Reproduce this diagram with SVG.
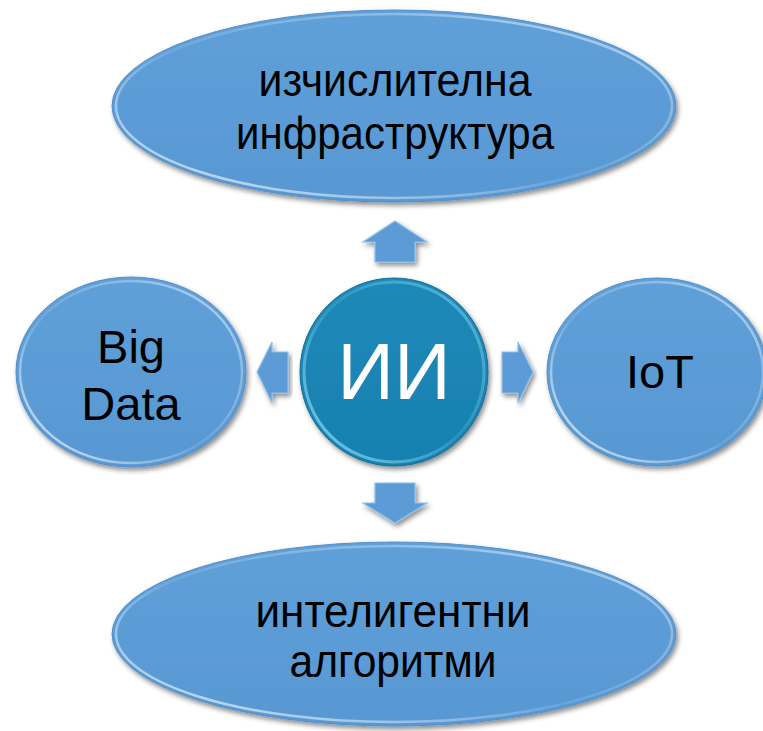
<svg xmlns="http://www.w3.org/2000/svg" width="763" height="731" viewBox="0 0 763 731">
  <defs>
    <filter id="shadow" x="-10%" y="-10%" width="125%" height="130%">
      <feDropShadow dx="2" dy="3" stdDeviation="2.5" flood-color="#000" flood-opacity="0.45"/>
    </filter>
    <linearGradient id="bluefill" x1="0" y1="0" x2="0" y2="1">
      <stop offset="0" stop-color="#5FA0D9"/>
      <stop offset="1" stop-color="#5898D3"/>
    </linearGradient>
    <linearGradient id="tealfill" x1="0" y1="0" x2="0" y2="1">
      <stop offset="0" stop-color="#1C89B9"/>
      <stop offset="1" stop-color="#1881B0"/>
    </linearGradient>
    <linearGradient id="hl" x1="0" y1="1" x2="1" y2="0">
      <stop offset="0" stop-color="#fff" stop-opacity="0.8"/>
      <stop offset="0.45" stop-color="#fff" stop-opacity="0.1"/>
      <stop offset="0.75" stop-color="#fff" stop-opacity="0.3"/>
      <stop offset="1" stop-color="#fff" stop-opacity="0.65"/>
    </linearGradient>
    <linearGradient id="hlc" x1="0" y1="1" x2="1" y2="0">
      <stop offset="0" stop-color="#8FE0F5" stop-opacity="0.85"/>
      <stop offset="0.5" stop-color="#8FE0F5" stop-opacity="0.15"/>
      <stop offset="1" stop-color="#8FE0F5" stop-opacity="0.55"/>
    </linearGradient>
  </defs>
  <style>
    .shape { fill: url(#bluefill); stroke: #5290CB; stroke-width: 1; }
    .rim { fill: none; stroke: url(#hl); stroke-width: 2.5; }
    .core { fill: url(#tealfill); stroke: #136C93; stroke-width: 1; }
    .rimc { fill: none; stroke: url(#hlc); stroke-width: 3; }
    .arrow { fill: #5B9BD5; stroke: #8EC0EA; stroke-width: 1.2; stroke-linejoin: miter; }
    .lbl { font-family: "Liberation Sans", Arial, sans-serif; font-size: 47px; fill: #000; text-anchor: middle; }
    .cyr { font-family: "Liberation Sans", Arial, sans-serif; font-size: 46px; fill: #000; text-anchor: middle; }
    .main { font-family: "Liberation Sans", Arial, sans-serif; font-size: 79px; fill: #fff; text-anchor: middle; }
  </style>
  <rect width="763" height="731" fill="#fff"/>

  <g id="connectors">
    <polygon class="arrow" filter="url(#shadow)" points="395,221 427,242 415,242 415,262 375,262 375,242 363,242"/>
    <polygon class="arrow" filter="url(#shadow)" points="395,523 427,503 415,503 415,483 375,483 375,503 363,503"/>
    <polygon class="arrow" filter="url(#shadow)" points="257,372 272,342 272,352 288,352 288,393 272,393 272,403"/>
    <polygon class="arrow" filter="url(#shadow)" points="533,372 518,342 518,352 502,352 502,393 518,393 518,403"/>
  </g>

  <g id="node-infra">
    <ellipse class="shape" filter="url(#shadow)" cx="394" cy="106" rx="282" ry="96"/>
    <ellipse class="rim" cx="394" cy="106" rx="278" ry="92"/>
    <text class="cyr" x="395" y="96" textLength="273" lengthAdjust="spacingAndGlyphs">изчислителна</text>
    <text class="cyr" x="395" y="149" textLength="318" lengthAdjust="spacingAndGlyphs">инфраструктура</text>
  </g>

  <g id="node-algo">
    <ellipse class="shape" filter="url(#shadow)" cx="394" cy="634" rx="282" ry="92"/>
    <ellipse class="rim" cx="394" cy="634" rx="278" ry="88"/>
    <text class="cyr" x="393" y="627" textLength="275" lengthAdjust="spacingAndGlyphs">интелигентни</text>
    <text class="cyr" x="393" y="677" textLength="207" lengthAdjust="spacingAndGlyphs">алгоритми</text>
  </g>

  <g id="node-bigdata">
    <ellipse class="shape" filter="url(#shadow)" cx="131" cy="372" rx="115" ry="95"/>
    <ellipse class="rim" cx="131" cy="372" rx="111" ry="91"/>
    <text class="lbl" x="131" y="363">Big</text>
    <text class="lbl" x="131" y="420">Data</text>
  </g>

  <g id="node-iot">
    <ellipse class="shape" filter="url(#shadow)" cx="657" cy="372" rx="110" ry="94"/>
    <ellipse class="rim" cx="657" cy="372" rx="106" ry="90"/>
    <text class="lbl" x="660" y="388">IoT</text>
  </g>

  <g id="node-ai">
    <circle class="core" filter="url(#shadow)" cx="394" cy="372" r="94"/>
    <circle class="rimc" cx="394" cy="372" r="90"/>
    <text class="main" x="394" y="399">ИИ</text>
  </g>
</svg>
